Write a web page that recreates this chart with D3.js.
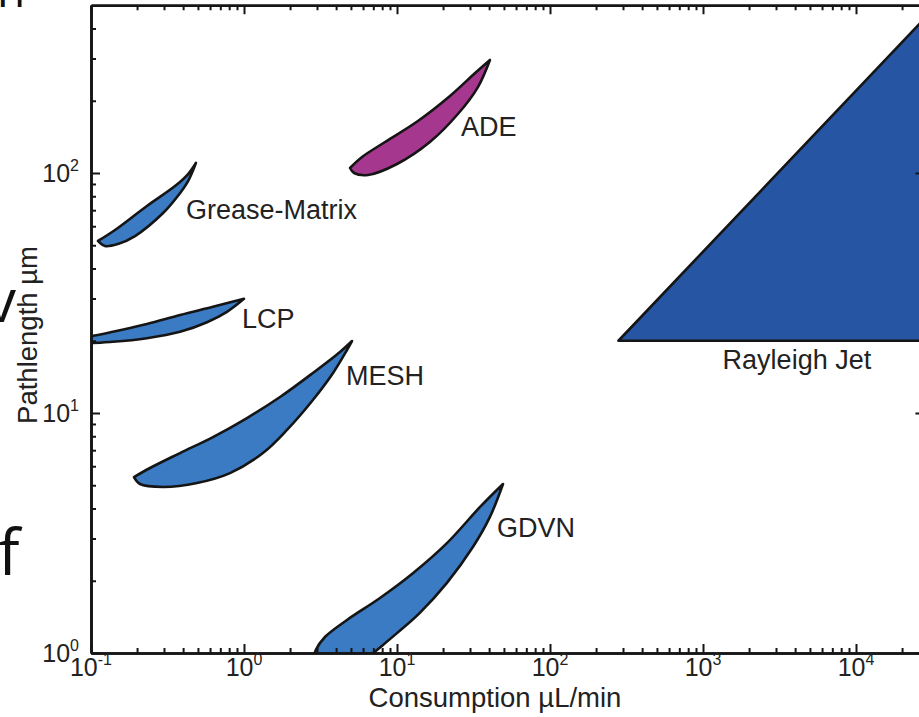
<!DOCTYPE html>
<html>
<head>
<meta charset="utf-8">
<script src="https://cdn.jsdelivr.net/npm/d3@7"></script>
<style>
  html, body { margin: 0; padding: 0; background: #fff; overflow: hidden; }
  svg { display: block; }
</style>
</head>
<body>
<svg id="chart" width="919" height="717"></svg>
<script>
// Sample delivery methods: sample consumption (µL/min) against pathlength (µm).
// Each method is a region bounded by an upper and a lower edge, given as
// [consumption, pathlength] points running left to right.

const xMajorTicks = [0.1, 1, 10, 100, 1000, 10000];
const yMajorTicks = [1, 10, 100];
const xDomain = [0.1, 28000];
const yDomain = [1, 500];

const greaseMatrixUpper = [[0.111, 52.1], [0.1436, 57.9], [0.232, 72.9], [0.354, 88.2], [0.431, 99.0], [0.485, 110.1]];
const greaseMatrixLower = [[0.111, 52.1], [0.1234, 49.6], [0.150, 50.6], [0.194, 54.6], [0.296, 68.1], [0.365, 79.4], [0.431, 92.6], [0.485, 110.1]];

const adeUpper = [[4.93, 104.9], [5.91, 116.6], [8.35, 134.6], [13.7, 164.7], [22.2, 209.4], [32.4, 260.9], [40.5, 295.7]];
const adeLower = [[4.93, 104.9], [5.24, 100.0], [6.46, 98.1], [10.0, 109.0], [16.4, 134.6], [25.0, 176.1], [33.8, 228.1], [40.5, 295.7]];

const lcpUpper = [[0.0627, 20.1], [0.1, 20.9], [0.139, 21.8], [0.232, 23.5], [0.382, 25.6], [0.627, 27.7], [1.0, 29.9]];
const lcpLower = [[0.0627, 20.1], [0.1, 19.6], [0.139, 19.8], [0.232, 20.5], [0.382, 21.8], [0.573, 23.9], [0.774, 26.4], [1.0, 29.9]];

const meshUpper = [[0.191, 5.41], [0.243, 5.90], [0.382, 6.81], [0.627, 7.94], [1.046, 9.53], [1.72, 11.66], [2.82, 14.68], [4.24, 17.96], [5.08, 19.95]];
const meshLower = [[0.191, 5.41], [0.209, 5.06], [0.296, 4.92], [0.493, 5.11], [0.810, 5.62], [1.33, 6.81], [1.91, 8.50], [2.82, 11.33], [3.82, 14.68], [4.71, 18.3], [5.08, 19.95]];

const gdvnUpper = [[2.78, 0.891], [2.95, 1.03], [3.38, 1.166], [4.71, 1.373], [7.74, 1.695], [12.7, 2.15], [21.2, 2.87], [34.9, 4.06], [49.3, 5.06]];
const gdvnLower = [[5.73, 0.900], [7.40, 1.03], [10.0, 1.21], [14.1, 1.47], [21.2, 1.96], [31.4, 2.77], [40.5, 3.69], [49.3, 5.06]];

// Rayleigh jet: straight-edged region
const rayleighJetUpper = [[280, 20], [30000, 460]];
const rayleighJetLower = [[280, 20], [30000, 20]];

// Label anchors in data units: [consumption, pathlength]
const methodNames = ["Grease-Matrix", "ADE", "LCP", "MESH", "GDVN", "Rayleigh Jet"];
const labelAnchors = [
  [0.418, 64.3], [26.2, 142.6], [0.97, 22.6], [4.64, 13.1], [45.1, 3.04], [4110, 15.3]
];

// ---------------------------------------------------------------------------

const svg = d3.select("#chart");

const left = 91, bottom = 653;
const decadeX = 153, decadeY = 240;

const x = d3.scaleLog()
  .domain(xDomain)
  .range([left, left + decadeX * Math.log10(xDomain[1] / xDomain[0])]);
const y = d3.scaleLog()
  .domain(yDomain)
  .range([bottom, bottom - decadeY * Math.log10(yDomain[1] / yDomain[0])]);

const [x0, x1] = x.range();
const [y0, y1] = y.range();

const BLUE = "#3b7bc4";
const DARK_BLUE = "#2656a3";
const MAGENTA = "#a5378f";
const INK = "#151515";
const TEXT = "#222";
const FONT = "'Liberation Sans', Arial, Helvetica, sans-serif";

// Fragments of the surrounding slide text at the left edge
const slide = svg.append("g")
  .attr("font-family", "'Open Sans', 'Liberation Sans', sans-serif")
  .attr("fill", "#111");
slide.append("text").attr("x", -3).attr("y", 7).attr("font-size", 46).text("n");
slide.append("text").attr("x", -14).attr("y", 322).attr("font-size", 60).text("v");
slide.append("text").attr("x", -2).attr("y", 575).attr("font-size", 64).text("f");

svg.append("defs").append("clipPath").attr("id", "plot-clip")
  .append("rect")
  .attr("x", x0).attr("y", y1)
  .attr("width", x1 - x0).attr("height", y0 - y1);

const regions = [
  { upper: greaseMatrixUpper, lower: greaseMatrixLower, fill: BLUE, smooth: true },
  { upper: adeUpper, lower: adeLower, fill: MAGENTA, smooth: true },
  { upper: lcpUpper, lower: lcpLower, fill: BLUE, smooth: true },
  { upper: meshUpper, lower: meshLower, fill: BLUE, smooth: true },
  { upper: gdvnUpper, lower: gdvnLower, fill: BLUE, smooth: true },
  { upper: rayleighJetUpper, lower: rayleighJetLower, fill: DARK_BLUE, smooth: false }
];

const smoothEdge = d3.line()
  .x(d => x(d[0])).y(d => y(d[1]))
  .curve(d3.curveCatmullRom.alpha(0.5));
const straightEdge = d3.line()
  .x(d => x(d[0])).y(d => y(d[1]));

function regionPath(r) {
  const gen = r.smooth ? smoothEdge : straightEdge;
  const top = gen(r.upper);
  const back = gen(r.lower.slice().reverse()).replace(/^M/, "L");
  return top + back + "Z";
}

const plot = svg.append("g").attr("clip-path", "url(#plot-clip)");
plot.selectAll("path.region")
  .data(regions)
  .join("path")
  .attr("class", "region")
  .attr("d", regionPath)
  .attr("fill", d => d.fill)
  .attr("stroke", INK)
  .attr("stroke-width", 2.6)
  .attr("stroke-linejoin", "round");

// Method labels
svg.append("g")
  .selectAll("text")
  .data(methodNames)
  .join("text")
  .attr("x", (d, i) => x(labelAnchors[i][0]))
  .attr("y", (d, i) => y(labelAnchors[i][1]))
  .attr("text-anchor", d => d === "Rayleigh Jet" ? "middle" : "start")
  .attr("font-family", FONT)
  .attr("font-size", 27)
  .attr("fill", TEXT)
  .text(d => d);

// Minor ticks at 2..9 of every decade
function minorTicks(domain) {
  const out = [];
  for (let e = Math.floor(Math.log10(domain[0])); e <= Math.ceil(Math.log10(domain[1])); e++) {
    for (let m = 2; m <= 9; m++) {
      const v = m * Math.pow(10, e);
      if (v > domain[0] && v < domain[1]) out.push(v);
    }
  }
  return out;
}
const xMinor = minorTicks(xDomain);
const yMinor = minorTicks(yDomain);

function styleAxis(g) {
  g.selectAll("path.domain").attr("stroke", INK).attr("stroke-width", 2.6);
  g.selectAll(".tick line").attr("stroke", INK).attr("stroke-width", 2);
  g.selectAll(".tick text").remove();
}

const axes = svg.append("g");
const sides = [
  { make: d3.axisBottom, scale: x, major: xMajorTicks, minor: xMinor, at: `translate(0,${y0})` },
  { make: d3.axisTop, scale: x, major: xMajorTicks, minor: xMinor, at: `translate(0,${y1})` },
  { make: d3.axisLeft, scale: y, major: yMajorTicks, minor: yMinor, at: `translate(${x0},0)` },
  { make: d3.axisRight, scale: y, major: yMajorTicks, minor: yMinor, at: `translate(${x1},0)` }
];
sides.forEach(s => {
  axes.append("g").attr("transform", s.at)
    .call(s.make(s.scale).tickValues(s.minor).tickSize(-5).tickSizeOuter(0).tickFormat(() => ""))
    .call(styleAxis);
  axes.append("g").attr("transform", s.at)
    .call(s.make(s.scale).tickValues(s.major).tickSize(-9).tickSizeOuter(0).tickFormat(() => ""))
    .call(styleAxis);
});

// Power-of-ten tick labels
function powerLabel(sel, v) {
  const e = Math.round(Math.log10(v));
  sel.append("tspan").attr("font-size", 25).text("10");
  sel.append("tspan").attr("font-size", 16).attr("dy", -11).text(e < 0 ? "-" + Math.abs(e) : String(e));
}

const xLabels = svg.append("g").attr("font-family", FONT).attr("fill", TEXT);
xMajorTicks.forEach(v => {
  const t = xLabels.append("text")
    .attr("x", x(v)).attr("y", y0 + 23)
    .attr("text-anchor", "middle");
  powerLabel(t, v);
});

const yLabels = svg.append("g").attr("font-family", FONT).attr("fill", TEXT);
yMajorTicks.forEach(v => {
  const t = yLabels.append("text")
    .attr("x", x0 - 12).attr("y", y(v) + 9)
    .attr("text-anchor", "end");
  powerLabel(t, v);
});

// Axis titles
svg.append("text")
  .attr("x", 495)
  .attr("y", 707)
  .attr("text-anchor", "middle")
  .attr("font-family", FONT).attr("font-size", 27.5).attr("fill", TEXT)
  .text("Consumption µL/min");

svg.append("text")
  .attr("transform", `translate(37,${335}) rotate(-90)`)
  .attr("text-anchor", "middle")
  .attr("font-family", FONT).attr("font-size", 27.5).attr("fill", TEXT)
  .text("Pathlength µm");
</script>
</body>
</html>
